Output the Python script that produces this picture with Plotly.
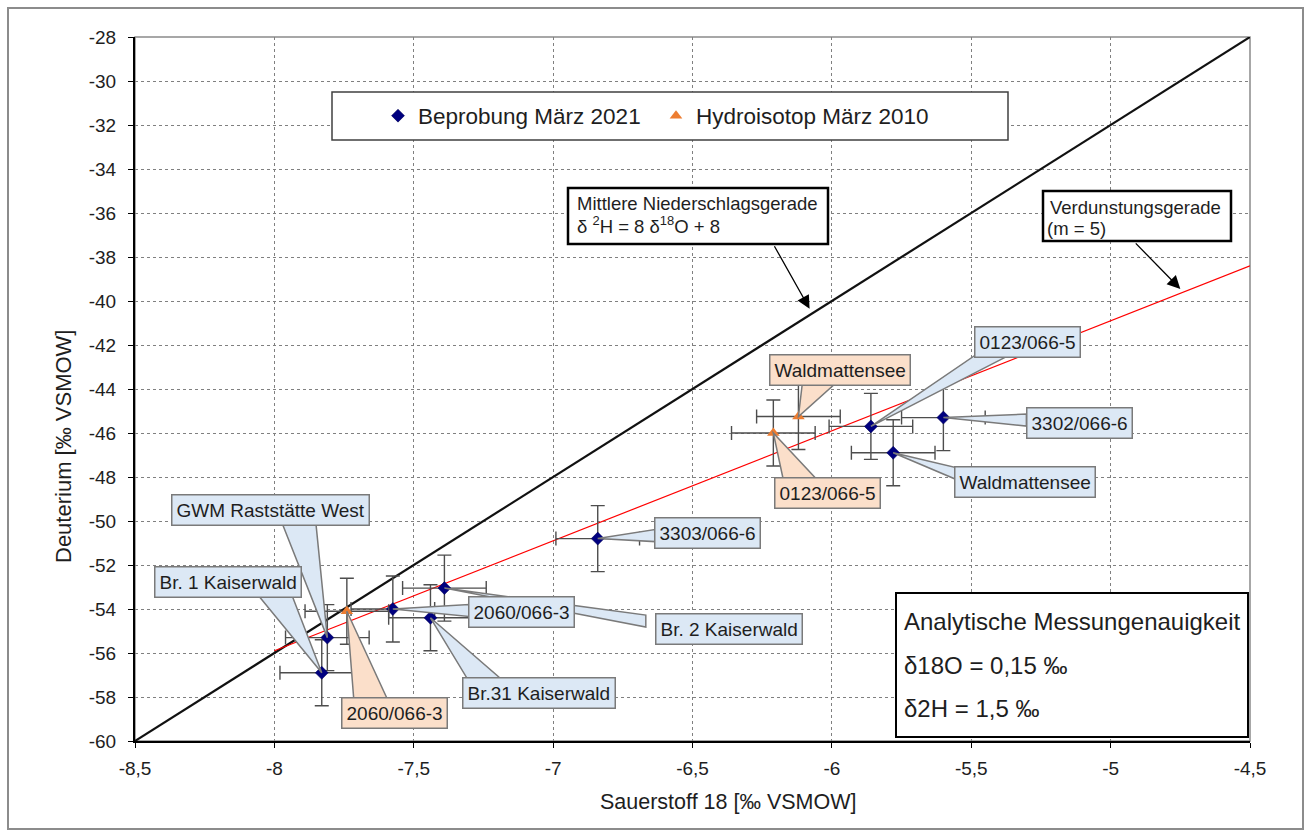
import math
import plotly.graph_objects as go

# ---------------- data ----------------
blue_names = ["Br. 1 Kaiserwald", "GWM Raststätte West", "2060/066-3", "Br.31 Kaiserwald",
              "Br. 2 Kaiserwald", "3303/066-6", "0123/066-5", "3302/066-6", "Waldmattensee"]
blue_o18 = [-7.83, -7.81, -7.575, -7.44, -7.39, -6.84, -5.86, -5.60, -5.78]
blue_h2 = [-56.9, -55.3, -54.0, -54.4, -53.05, -50.8, -45.7, -45.3, -46.9]

orange_names = ["2060/066-3", "Waldmattensee", "0123/066-5"]
orange_o18 = [-7.74, -6.12, -6.21]
orange_h2 = [-54.1, -45.25, -46.0]

o18_err = 0.15
h2_err = 1.5

mwl_o18 = [-8.5, -4.5]
mwl_h2 = [-60.0, -28.0]
evap_o18 = [-8.0, -4.5]
evap_h2 = [-55.9, -38.4]

x_ticks = [-8.5, -8.0, -7.5, -7.0, -6.5, -6.0, -5.5, -5.0, -4.5]
x_ticklabels = ["-8,5", "-8", "-7,5", "-7", "-6,5", "-6", "-5,5", "-5", "-4,5"]
y_ticks = [-60, -58, -56, -54, -52, -50, -48, -46, -44, -42, -40, -38, -36, -34, -32, -30, -28]
y_ticklabels = ["-60", "-58", "-56", "-54", "-52", "-50", "-48", "-46", "-44", "-42", "-40",
                "-38", "-36", "-34", "-32", "-30", "-28"]

# ---------------- layout helpers ----------------
W_FIG, H_FIG = 1309, 831
M_L, M_R, M_T, M_B = 135, 59, 37, 90
PW = W_FIG - M_L - M_R
PH = H_FIG - M_T - M_B


def pxx(x):
    return (x - M_L) / PW


def pxy(y):
    return (H_FIG - M_B - y) / PH


FONT = "Liberation Sans, Arial, sans-serif"
TXT = "#1e1e1e"
BLUE_FILL = "#dce8f5"
ORANGE_FILL = "#fbdfca"
CALLOUT_LINE = "#7a7a7a"

# callout label offsets (pixels, from point to label centre)
blue_offsets = [(-94, -91), (-57, -128), (129, 3), (109, 75), (285, 41),
                (110, -6), (157, -84), (136, 5), (132, 29)]
orange_offsets = [(48, 102), (42, -47), (54, 60)]

fig = go.Figure()

fig.add_trace(go.Scatter(x=mwl_o18, y=mwl_h2, mode="lines",
                         line=dict(color="#111111", width=2.2), showlegend=False, hoverinfo="skip"))
fig.add_trace(go.Scatter(x=evap_o18, y=evap_h2, mode="lines",
                         line=dict(color="#ff0000", width=1.2), showlegend=False, hoverinfo="skip"))

err_style = dict(color="#4d4d4d", thickness=1.4, width=7)
fig.add_trace(go.Scatter(
    x=blue_o18, y=blue_h2, mode="markers", name="Beprobung März 2021",
    marker=dict(symbol="diamond", size=10, color="#00007f", line=dict(color="#000050", width=0.5)),
    error_x=dict(type="constant", value=o18_err, **err_style),
    error_y=dict(type="constant", value=h2_err, **err_style),
    text=blue_names))
fig.add_trace(go.Scatter(
    x=orange_o18, y=orange_h2, mode="markers", name="Hydroisotop März 2010",
    marker=dict(symbol="triangle-up", size=11, color="#ed7d31"),
    error_x=dict(type="constant", value=o18_err, **err_style),
    error_y=dict(type="constant", value=h2_err, **err_style),
    text=orange_names))

shapes = []
annotations = []

# outer frame and plot border
shapes.append(dict(type="rect", xref="paper", yref="paper", x0=pxx(8), x1=pxx(1303),
                   y0=pxy(829), y1=pxy(8), line=dict(color="#8c8c8c", width=2), layer="below"))
shapes.append(dict(type="rect", xref="paper", yref="paper", x0=0, x1=1, y0=0, y1=1,
                   line=dict(color="#8a8a8a", width=1.5), layer="below"))


def callout(x, y, off, text, fill):
    dx, dy = off
    bw = len(text) * 5.1 + 5      # approx. half width of the label box
    bh = 16                       # approx. half height of the label box
    if abs(dy) / bh > abs(dx) / bw:
        # wedge leaves through top / bottom edge
        by = dy - math.copysign(bh - 3, dy)
        bx = dx * 0.5
        bx = max(dx - bw + 20, min(dx + bw - 20, bx))
        p1 = (bx - 17, -by)
        p2 = (bx + 17, -by)
    else:
        # wedge leaves through left / right edge
        bx = dx - math.copysign(bw - 3, dx)
        by = dy * 0.5
        by = max(dy - 8, min(dy + 8, by))
        p1 = (bx, -by - 6)
        p2 = (bx, -by + 6)
    path = f"M0,0 L{p1[0]:.1f},{p1[1]:.1f} L{p2[0]:.1f},{p2[1]:.1f} Z"
    shapes.append(dict(type="path", xref="x", yref="y", xsizemode="pixel", ysizemode="pixel",
                       xanchor=x, yanchor=y, path=path, fillcolor=fill,
                       line=dict(color=CALLOUT_LINE, width=1.5), layer="above"))
    annotations.append(dict(x=x, y=y, xref="x", yref="y", ax=dx, ay=dy, text=text,
                            showarrow=True, arrowcolor="rgba(0,0,0,0)", arrowwidth=0.1,
                            font=dict(family=FONT, size=19, color=TXT),
                            bgcolor=fill, bordercolor=CALLOUT_LINE, borderwidth=1.5, borderpad=4))


for xv, yv, off, t in zip(blue_o18, blue_h2, blue_offsets, blue_names):
    callout(xv, yv, off, t, BLUE_FILL)
for xv, yv, off, t in zip(orange_o18, orange_h2, orange_offsets, orange_names):
    callout(xv, yv, off, t, ORANGE_FILL)

# legend box
shapes.append(dict(type="rect", xref="paper", yref="paper", x0=pxx(332), x1=pxx(1008),
                   y0=pxy(140), y1=pxy(92), fillcolor="white",
                   line=dict(color="#404040", width=1.5), layer="above"))
# MWL box
shapes.append(dict(type="rect", xref="paper", yref="paper", x0=pxx(568), x1=pxx(828),
                   y0=pxy(244), y1=pxy(188), fillcolor="white",
                   line=dict(color="black", width=2.5), layer="above"))
# Verdunstung box
shapes.append(dict(type="rect", xref="paper", yref="paper", x0=pxx(1043), x1=pxx(1231),
                   y0=pxy(241), y1=pxy(191), fillcolor="white",
                   line=dict(color="black", width=2.5), layer="above"))
# accuracy box
shapes.append(dict(type="rect", xref="paper", yref="paper", x0=pxx(896), x1=pxx(1248),
                   y0=pxy(737), y1=pxy(593), fillcolor="white",
                   line=dict(color="black", width=2), layer="above"))


def ptext(x, y, text, size, anchor="left", angle=0):
    annotations.append(dict(x=pxx(x), y=pxy(y), xref="paper", yref="paper", text=text,
                            showarrow=False, xanchor=anchor, yanchor="middle", textangle=angle,
                            font=dict(family=FONT, size=size, color=TXT)))


ptext(575, 204, "Mittlere Niederschlagsgerade", 18.5)
ptext(575, 225, "δ <sup>2</sup>H = 8 δ<sup>18</sup>O + 8", 18.5)
ptext(1048, 207, "Verdunstungsgerade", 18.5)
ptext(1045, 228, "(m = 5)", 18.5)
ptext(902, 621, "Analytische Messungenauigkeit", 24)
ptext(902, 665, "δ18O = 0,15 ‰", 24)
ptext(902, 708, "δ2H = 1,5 ‰", 24)

# arrows
annotations.append(dict(x=-6.08, y=-40.35, xref="x", yref="y", ax=-36, ay=-64, text="",
                        showarrow=True, arrowhead=2, arrowsize=2.0, arrowwidth=1.3,
                        arrowcolor="black"))
annotations.append(dict(x=-4.75, y=-39.45, xref="x", yref="y", ax=-46, ay=-47, text="",
                        showarrow=True, arrowhead=2, arrowsize=2.0, arrowwidth=1.3,
                        arrowcolor="black"))

# axis titles
ptext(728, 802, "Sauerstoff 18 [‰ VSMOW]", 21.5, anchor="center")
ptext(63, 447, "Deuterium [‰ VSMOW]", 22, anchor="center", angle=-90)

axis_common = dict(showgrid=True, gridcolor="#808080", griddash="dot", gridwidth=1,
                   zeroline=False, showline=True, linecolor="black", linewidth=2,
                   ticks="outside", ticklen=5, tickcolor="black",
                   tickfont=dict(family=FONT, size=19, color=TXT))

fig.update_layout(
    width=W_FIG, height=H_FIG,
    margin=dict(l=M_L, r=M_R, t=M_T, b=M_B),
    paper_bgcolor="white", plot_bgcolor="white",
    xaxis=dict(range=[-8.5, -4.5], tickmode="array", tickvals=x_ticks, ticktext=x_ticklabels,
               ticklabelstandoff=4, **axis_common),
    yaxis=dict(range=[-60, -28], tickmode="array", tickvals=y_ticks, ticktext=y_ticklabels,
               ticklabelstandoff=8, **axis_common),
    showlegend=True,
    legend=dict(orientation="h", x=pxx(378), y=pxy(116), xanchor="left", yanchor="middle",
                bgcolor="rgba(0,0,0,0)", borderwidth=0, entrywidth=233,
                font=dict(family=FONT, size=22.5, color=TXT)),
    shapes=shapes,
    annotations=annotations,
    hovermode=False,
)

fig.write_html("out.html", config={"displayModeBar": False},
               post_script="document.body.style.margin='0';document.body.style.overflow='hidden';")
